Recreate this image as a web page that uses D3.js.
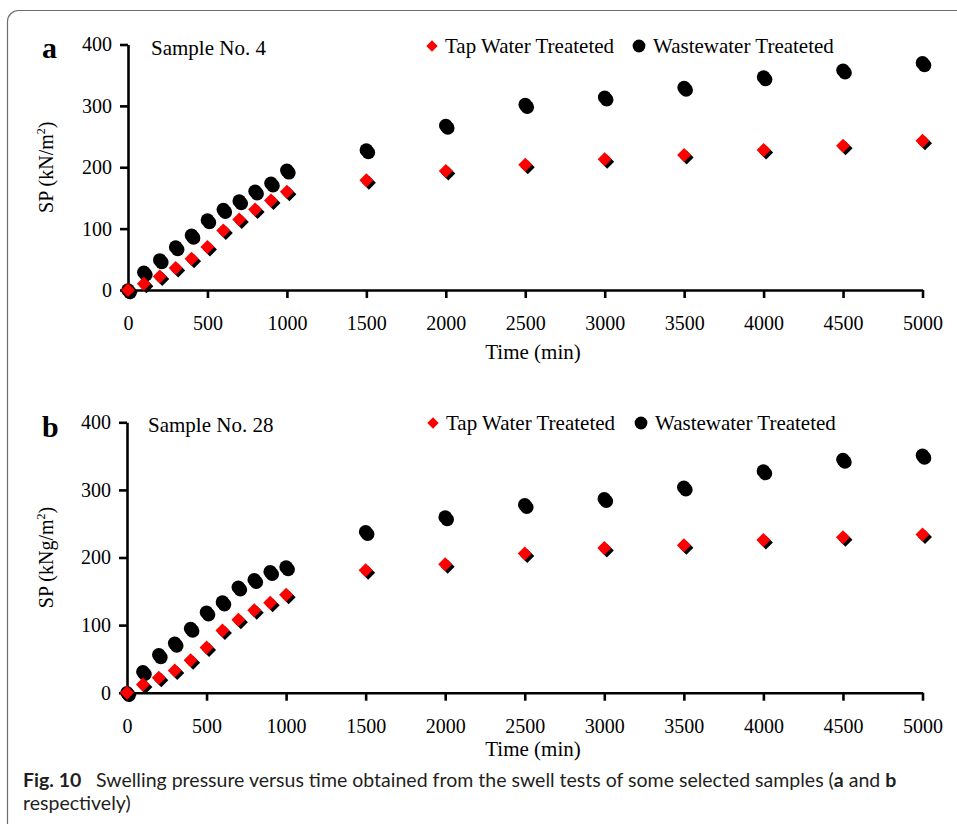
<!DOCTYPE html>
<html>
<head>
<meta charset="utf-8">
<script src="https://cdn.jsdelivr.net/npm/d3@7"></script>
<style>
  body { margin: 0; background: #fff; }
  text { font-family: "Liberation Serif", "Times New Roman", serif; }
</style>
</head>
<body>
<div id="chart"></div>
<script>
// time steps (min)
var times = [0, 100, 200, 300, 400, 500, 600, 700, 800, 900, 1000, 1500, 2000, 2500, 3000, 3500, 4000, 4500, 5000];

// Sample No. 4
var tapA = [0, 10, 22, 36, 51, 70, 97, 115, 131, 146, 160, 179, 194, 204, 213, 220, 228, 235, 243];
var wasteA = [0, 29, 49, 70, 89, 114, 131, 145, 161, 174, 195, 228, 268, 302, 314, 330, 347, 358, 370];

// Sample No. 28
var tapB = [0, 12, 22, 33, 48, 67, 92, 108, 122, 133, 145, 181, 190, 206, 214, 218, 226, 230, 234];
var wasteB = [0, 31, 56, 73, 95, 119, 134, 156, 167, 179, 186, 238, 260, 278, 287, 304, 328, 345, 351];

var xTicks = [0, 500, 1000, 1500, 2000, 2500, 3000, 3500, 4000, 4500, 5000];
var yTicks = [0, 100, 200, 300, 400];
var legendNames = ["Tap Water Treateted", "Wastewater Treateted"];

var width = 957, height = 824;

var svg = d3.select("#chart")
    .append("svg")
    .attr("width", width)
    .attr("height", height);

// outer frame
svg.append("rect")
    .attr("x", 7.5).attr("y", 10.5)
    .attr("width", 1000).attr("height", 900)
    .attr("rx", 11)
    .attr("fill", "none")
    .attr("stroke", "#6d6d6d")
    .attr("stroke-width", 1.2);

var diamond = d3.symbol().type(d3.symbolSquare).size(98);
var diamondSmall = d3.symbol().type(d3.symbolSquare).size(64);

function drawPanel(p) {
    var x = d3.scaleLinear().domain([0, 5000]).range([p.x0, p.x1]);
    var y = d3.scaleLinear().domain([0, 400]).range([p.y0, p.y1]);

    var g = svg.append("g");

    var xAxis = g.append("g")
        .attr("transform", "translate(0," + p.y0 + ")")
        .call(d3.axisBottom(x).tickValues(xTicks).tickFormat(d3.format("d"))
            .tickSize(8).tickSizeOuter(0).tickPadding(18));
    var yAxis = g.append("g")
        .attr("transform", "translate(" + p.x0 + ",0)")
        .call(d3.axisLeft(y).tickValues(yTicks).tickFormat(d3.format("d"))
            .tickSize(8).tickSizeOuter(0).tickPadding(8));

    [xAxis, yAxis].forEach(function(a) {
        a.select(".domain").attr("stroke", "#000").attr("stroke-width", 2.6);
        a.selectAll(".tick line").attr("stroke", "#000").attr("stroke-width", 2.6);
        a.selectAll(".tick text")
            .attr("fill", "#000")
            .style("font-family", "Liberation Serif")
            .style("font-size", "20px");
    });

    // axis titles
    g.append("text")
        .attr("x", 533).attr("y", p.titleY)
        .attr("text-anchor", "middle")
        .style("font-size", "21px")
        .text("Time (min)");

    var yl = g.append("text")
        .attr("transform", "translate(" + 53 + "," + (p.y0 + p.y1) / 2 + ") rotate(-90)")
        .attr("text-anchor", "middle")
        .style("font-size", "20px");
    yl.append("tspan").text(p.unit);
    yl.append("tspan").attr("dy", -8).style("font-size", "12px").text("2");
    yl.append("tspan").attr("dy", 8).text(")");

    // panel letter + sample
    g.append("text")
        .attr("x", 42).attr("y", p.letterY)
        .style("font-size", "30px").style("font-weight", "bold")
        .text(p.letter);
    g.append("text")
        .attr("x", p.sampleX).attr("y", p.legendY + 2)
        .style("font-size", "21px")
        .text(p.sample);

    // legend
    g.append("path")
        .attr("d", diamondSmall)
        .attr("transform", "translate(" + p.legX0 + "," + (p.legendY - 7) + ") rotate(45)")
        .attr("fill", "#ff0000");
    g.append("text")
        .attr("x", p.legX0 + 13).attr("y", p.legendY)
        .style("font-size", "21px")
        .text(legendNames[0]);
    g.append("circle")
        .attr("cx", p.legX1).attr("cy", p.legendY - 7).attr("r", 6.4)
        .attr("fill", "#000");
    g.append("text")
        .attr("x", p.legX1 + 14).attr("y", p.legendY)
        .style("font-size", "21px")
        .text(legendNames[1]);

    // markers, each with a small black shadow
    var waste = times.map(function(t, i) { return {t: t, v: p.waste[i]}; });
    var tap = times.map(function(t, i) { return {t: t, v: p.tap[i]}; });

    g.selectAll(".wshadow").data(waste).join("circle")
        .attr("cx", function(d) { return x(d.t) + 2; })
        .attr("cy", function(d) { return y(d.v) + 2.5; })
        .attr("r", 6.8).attr("fill", "#000");
    g.selectAll(".wdot").data(waste).join("circle")
        .attr("cx", function(d) { return x(d.t); })
        .attr("cy", function(d) { return y(d.v); })
        .attr("r", 6.8).attr("fill", "#000");

    g.selectAll(".tshadow").data(tap).join("path")
        .attr("d", diamond)
        .attr("transform", function(d) { return "translate(" + (x(d.t) + 2.5) + "," + (y(d.v) + 2.5) + ") rotate(45)"; })
        .attr("fill", "#000");
    g.selectAll(".tdot").data(tap).join("path")
        .attr("d", diamond)
        .attr("transform", function(d) { return "translate(" + x(d.t) + "," + y(d.v) + ") rotate(45)"; })
        .attr("fill", "#ff0000");
}

drawPanel({x0: 128, x1: 922.5, y0: 290, y1: 44.5, titleY: 359, letter: "a", letterY: 58,
    sample: "Sample No. 4", sampleX: 151, legendY: 53, legX0: 432, legX1: 639,
    unit: "SP (kN/m", tap: tapA, waste: wasteA});
drawPanel({x0: 127, x1: 922.5, y0: 692.7, y1: 422.3, titleY: 756, letter: "b", letterY: 437,
    sample: "Sample No. 28", sampleX: 148, legendY: 430, legX0: 433, legX1: 641,
    unit: "SP (kNg/m", tap: tapB, waste: wasteB});

// caption
var capFont = "Lato";
var cap = svg.append("g").style("fill", "#231f20");
var figLabel = cap.append("text").attr("x", 23).attr("y", 787)
    .style("font-family", capFont).style("font-weight", "bold").style("font-size", "17px")
    .text("Fig. 10");
var line1 = cap.append("text").attr("x", 96).attr("y", 787)
    .style("font-family", capFont).style("font-size", "17px");
line1.append("tspan").text("Swelling pressure versus time obtained from the swell tests of some selected samples (");
line1.append("tspan").style("font-weight", "bold").text("a");
line1.append("tspan").text(" and ");
line1.append("tspan").style("font-weight", "bold").text("b");
var line2 = cap.append("text").attr("x", 23).attr("y", 810)
    .style("font-family", capFont).style("font-size", "17px")
    .text("respectively)");

// fit the caption width to the figure
var w1 = line1.node().getComputedTextLength();
var fs = 17 * 801 / w1;
line1.style("font-size", fs + "px");
line2.style("font-size", fs + "px");
figLabel.style("font-size", fs + "px");
</script>
</body>
</html>
